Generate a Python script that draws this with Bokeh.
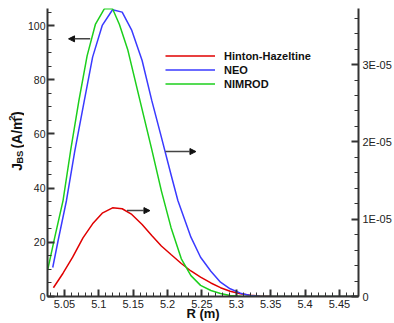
import numpy as np
from bokeh.plotting import figure
from bokeh.layouts import row
from bokeh.models import (Range1d, LinearAxis, SingleIntervalTicker, Legend, LegendItem,
                          Arrow, NormalHead, Label, CustomJSTickFormatter)
from bokeh.embed import file_html
from bokeh.resources import INLINE

# ---------------- data ----------------
# Hinton-Hazeltine (right axis)
r_hh = [5.034, 5.048, 5.062, 5.077, 5.091, 5.105, 5.120, 5.134, 5.148, 5.163, 5.177, 5.191,
        5.205, 5.220, 5.234, 5.248, 5.263, 5.277, 5.291, 5.306, 5.320, 5.334, 5.349, 5.363,
        5.377, 5.392, 5.406, 5.420, 5.435, 5.449, 5.463, 5.477]
j_hh = [1.13e-6, 3.01e-6, 5.08e-6, 7.59e-6, 9.40e-6, 1.078e-5, 1.147e-5, 1.135e-5, 1.061e-5,
        9.31e-6, 7.89e-6, 6.53e-6, 5.43e-6, 4.27e-6, 3.30e-6, 2.50e-6, 1.75e-6, 1.14e-6,
        6.7e-7, 3.5e-7, 1.7e-7, 6e-8, 2e-8, 1e-8, 0, 0, 0, 0, 0, 0, 0, 0]

# NEO (right axis)
r_neo = [5.033, 5.041, 5.053, 5.065, 5.079, 5.091, 5.105, 5.120, 5.134, 5.148, 5.163, 5.177,
         5.191, 5.205, 5.215, 5.234, 5.248, 5.263, 5.277, 5.291, 5.306, 5.320, 5.334, 5.349,
         5.363, 5.392, 5.420, 5.449, 5.477]
j_neo = [3.75e-6, 7.31e-6, 1.242e-5, 1.876e-5, 2.536e-5, 3.096e-5, 3.506e-5, 3.709e-5,
         3.678e-5, 3.441e-5, 3.053e-5, 2.536e-5, 2.061e-5, 1.578e-5, 1.242e-5, 7.67e-6,
         5.08e-6, 3.27e-6, 1.85e-6, 1.00e-6, 4.3e-7, 1.3e-7, 4e-8, 1e-8, 0, 0, 0, 0, 0]

# NIMROD (left axis, A/m^2)
r_nim = [5.026, 5.036, 5.048, 5.059, 5.071, 5.083, 5.095, 5.108, 5.120, 5.130, 5.142, 5.160,
         5.177, 5.191, 5.205, 5.220, 5.234, 5.248, 5.263, 5.277, 5.291, 5.306, 5.320, 5.349,
         5.392, 5.435, 5.477]
j_nim = [10.2, 21.9, 35.4, 53.8, 72.2, 88.8, 100.4, 106.2, 106.2, 100.4, 91.2, 72.2, 54.3,
         39.0, 25.5, 13.9, 7.7, 4.1, 2.2, 1.1, 0.4, 0.1, 0, 0, 0, 0, 0]

series_names = ["Hinton-Hazeltine", "NEO", "NIMROD"]
series_colors = ["#e00000", "#3a3aff", "#1ccf1c"]

# arrows (pointing to the axis each curve uses), in data coords of the left axis
arrow_x_start = [5.0875, 5.1968, 5.141]
arrow_x_end = [5.056, 5.2413, 5.1744]
arrow_y = [95.1, 53.5, 31.7]

X0, X1 = 5.0254, 5.4777
Y_LEFT = (0, 106.3)
Y_RIGHT = (0, 3.725e-5)

FONT = "Liberation Sans"
AX_COL = "#333333"
TXT_COL = "#111111"

# ---------------- layout (page pixels) ----------------
TOTAL_W, TOTAL_H = 394, 323
LW = 24                      # strip holding the rotated y title
FRAME_L, FRAME_R, FRAME_T, FRAME_B = 44, 360, 8, 296

# ---------------- y-title strip ----------------
lab = figure(width=LW, height=TOTAL_H, output_backend="svg", toolbar_location=None,
             title=None, x_range=Range1d(0, LW), y_range=Range1d(0, TOTAL_H),
             x_axis_type=None, y_axis_type=None,
             min_border_left=0, min_border_right=0, min_border_top=0, min_border_bottom=0)
lab.outline_line_color = None
lab.xgrid.visible = False
lab.ygrid.visible = False

base_x = 16.5
# (text, font px, advance px, baseline shift px)
pieces = [("J", 14, 7.8, 0), ("BS", 9.5, 13.2, 2.3), (None, 0, 3.9, 0),
          ("(A/m", 14, 31.1, 0), ("2", 9.5, 5.3, -5.5), (")", 14, 4.7, 0)]
py = 182.0   # page y where the title starts (bottom end)
for txt, fs, adv, shift in pieces:
    if txt:
        lab.add_layout(Label(x=base_x + shift, y=TOTAL_H - py, text=txt, angle=np.pi / 2,
                             text_font=FONT, text_font_style="bold",
                             text_font_size=f"{fs}px", text_color=TXT_COL,
                             text_align="left", text_baseline="alphabetic"))
    py -= adv

# ---------------- main figure ----------------
W = TOTAL_W - LW
p = figure(width=W, height=TOTAL_H, output_backend="svg", toolbar_location=None, title=None,
           x_range=Range1d(X0, X1), y_range=Range1d(*Y_LEFT),
           min_border_left=FRAME_L - LW, min_border_right=TOTAL_W - FRAME_R,
           min_border_top=FRAME_T, min_border_bottom=TOTAL_H - FRAME_B)
p.extra_y_ranges = {"right": Range1d(*Y_RIGHT)}
p.outline_line_color = None
p.xgrid.visible = False
p.ygrid.visible = False


def style_axis(ax, size="11px"):
    ax.axis_line_color = AX_COL
    ax.axis_line_width = 2
    ax.major_tick_line_color = AX_COL
    ax.major_tick_line_width = 2
    ax.minor_tick_line_color = AX_COL
    ax.minor_tick_line_width = 1
    ax.major_tick_in = 7
    ax.major_tick_out = 0
    ax.minor_tick_in = 4
    ax.minor_tick_out = 0
    ax.major_label_text_font = FONT
    ax.major_label_text_font_size = size
    ax.major_label_text_color = "#222222"


xax = p.xaxis[0]
style_axis(xax)
xax.ticker = SingleIntervalTicker(interval=0.05, num_minor_ticks=5)
xax.formatter = CustomJSTickFormatter(code="return String(Math.round(tick*100)/100);")
xax.major_label_standoff = 3
xax.axis_label = "R (m)"
xax.axis_label_text_font = FONT
xax.axis_label_text_font_style = "bold"
xax.axis_label_text_font_size = "13px"
xax.axis_label_text_color = TXT_COL
xax.axis_label_standoff = -5

yax = p.yaxis[0]
style_axis(yax, "10.5px")
yax.ticker = SingleIntervalTicker(interval=20, num_minor_ticks=4)
yax.major_label_standoff = 2

rax = LinearAxis(y_range_name="right")
style_axis(rax)
rax.ticker = SingleIntervalTicker(interval=1e-5, num_minor_ticks=5)
rax.formatter = CustomJSTickFormatter(
    code="if (Math.abs(tick) < 1e-12) return '0'; return Math.round(tick*1e5) + 'E-05';")
rax.major_label_standoff = 4
p.add_layout(rax, "right")

# ---------------- curves ----------------
r1 = p.line(r_hh, j_hh, line_color=series_colors[0], line_width=1.5, y_range_name="right")
r2 = p.line(r_neo, j_neo, line_color=series_colors[1], line_width=1.5, y_range_name="right")
r3 = p.line(r_nim, j_nim, line_color=series_colors[2], line_width=1.5)

legend = Legend(items=[LegendItem(label=series_names[0], renderers=[r1]),
                       LegendItem(label=series_names[1], renderers=[r2]),
                       LegendItem(label=series_names[2], renderers=[r3])],
                location=(118, 206), orientation="vertical",
                glyph_width=50, glyph_height=13, label_height=13, label_standoff=9,
                spacing=1, padding=0, margin=0, border_line_color=None,
                background_fill_alpha=0,
                label_text_font=FONT, label_text_font_style="bold",
                label_text_font_size="11px", label_text_color=TXT_COL)
p.add_layout(legend)

for xs, xe, ya in zip(arrow_x_start, arrow_x_end, arrow_y):
    p.add_layout(Arrow(x_start=xs, y_start=ya, x_end=xe, y_end=ya,
                       line_color="#444444", line_width=1.5,
                       end=NormalHead(size=6, fill_color="#111111", line_color="#111111")))

page = row(lab, p, spacing=0)
open("out.html", "w").write(file_html(page, INLINE))
